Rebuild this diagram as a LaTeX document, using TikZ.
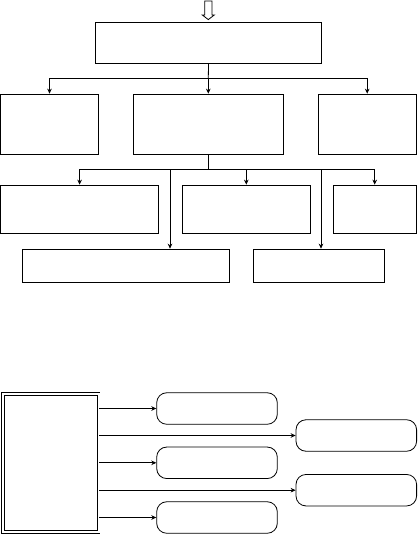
\documentclass[tikz,border=0pt]{standalone}
\usepackage{tikz}
\usetikzlibrary{arrows.meta}

\begin{document}
\begin{tikzpicture}[
  x=1pt, y=-1pt,
  line width=0.8pt,
  >=Stealth,
  box/.style={draw=black, inner sep=0pt, fill=white},
  pill/.style={box, rounded corners=10pt, minimum height=31.5pt, minimum width=120.6pt},
  panel/.style={draw=black, inner sep=0pt, double=white, double distance=1.8pt, line width=0.8pt},
  arr/.style={-{Stealth[length=5pt, width=4.6pt]}, draw=black},
  bus/.style={draw=black}
]
  \useasboundingbox (0,0) rectangle (418,534);

  %% input arrow
  \draw (204.7,1) -- (212,1) -- (212,15) -- (214.3,15) -- (208.3,19.6)
    -- (202.3,15) -- (204.7,15) -- cycle;

  %% level 0
  \node[box, minimum width=226.4pt, minimum height=41pt] (top) at (208.5,42.8) {};

  %% level 1
  \node[box, minimum width=98pt, minimum height=60.3pt] (a1) at (49.5,124.2) {};
  \node[box, minimum width=150pt, minimum height=60.3pt] (a2) at (208.3,124.2) {};
  \node[box, minimum width=97.7pt, minimum height=60.3pt] (a3) at (367.2,124.2) {};
  \coordinate (j1) at (208.3,78.3);
  \draw[bus] (top.south) -- (j1);
  \draw[arr] (j1) -| (a1.north);
  \draw[arr] (j1) -- (a2.north);
  \draw[arr] (j1) -| (a3.north);

  %% level 2
  \node[box, minimum width=158.2pt, minimum height=48.3pt] (b1) at (79.6,209.2) {};
  \node[box, minimum width=128pt, minimum height=48.3pt] (b2) at (246.3,209.2) {};
  \node[box, minimum width=82.7pt, minimum height=48.3pt] (b3) at (374.7,209.2) {};
  \coordinate (j2) at (208.3,169.3);
  \draw[bus] (a2.south) -- (j2);
  \draw[arr] (j2) -| (b1.north);
  \draw[arr] (j2) -| (b2.north);
  \draw[arr] (j2) -| (b3.north);

  %% level 3
  \node[box, minimum width=207.4pt, minimum height=33.3pt] (c1) at (126,265.7) {};
  \node[box, minimum width=131pt, minimum height=33.3pt] (c2) at (318.8,265.7) {};
  \coordinate (k1) at (170,169.3);
  \coordinate (k2) at (321,169.3);
  \draw[arr] (k1) -- (k1 |- c1.north);
  \draw[arr] (k2) -- (k2 |- c2.north);

  %% lower panel
  \node[panel, minimum width=95.6pt, minimum height=137.8pt] (src) at (50.85,463) {};
  \node[pill] (r1) at (217,408.5) {};
  \node[pill] (r2) at (217,462.8) {};
  \node[pill] (r3) at (217,517.5) {};
  \node[pill] (q1) at (356.3,435.5) {};
  \node[pill] (q2) at (356.3,490.2) {};
  \foreach \t in {r1,q1,r2,q2,r3}
    \draw[arr] (src.east |- \t.west) -- (\t.west);
\end{tikzpicture}
\end{document}
